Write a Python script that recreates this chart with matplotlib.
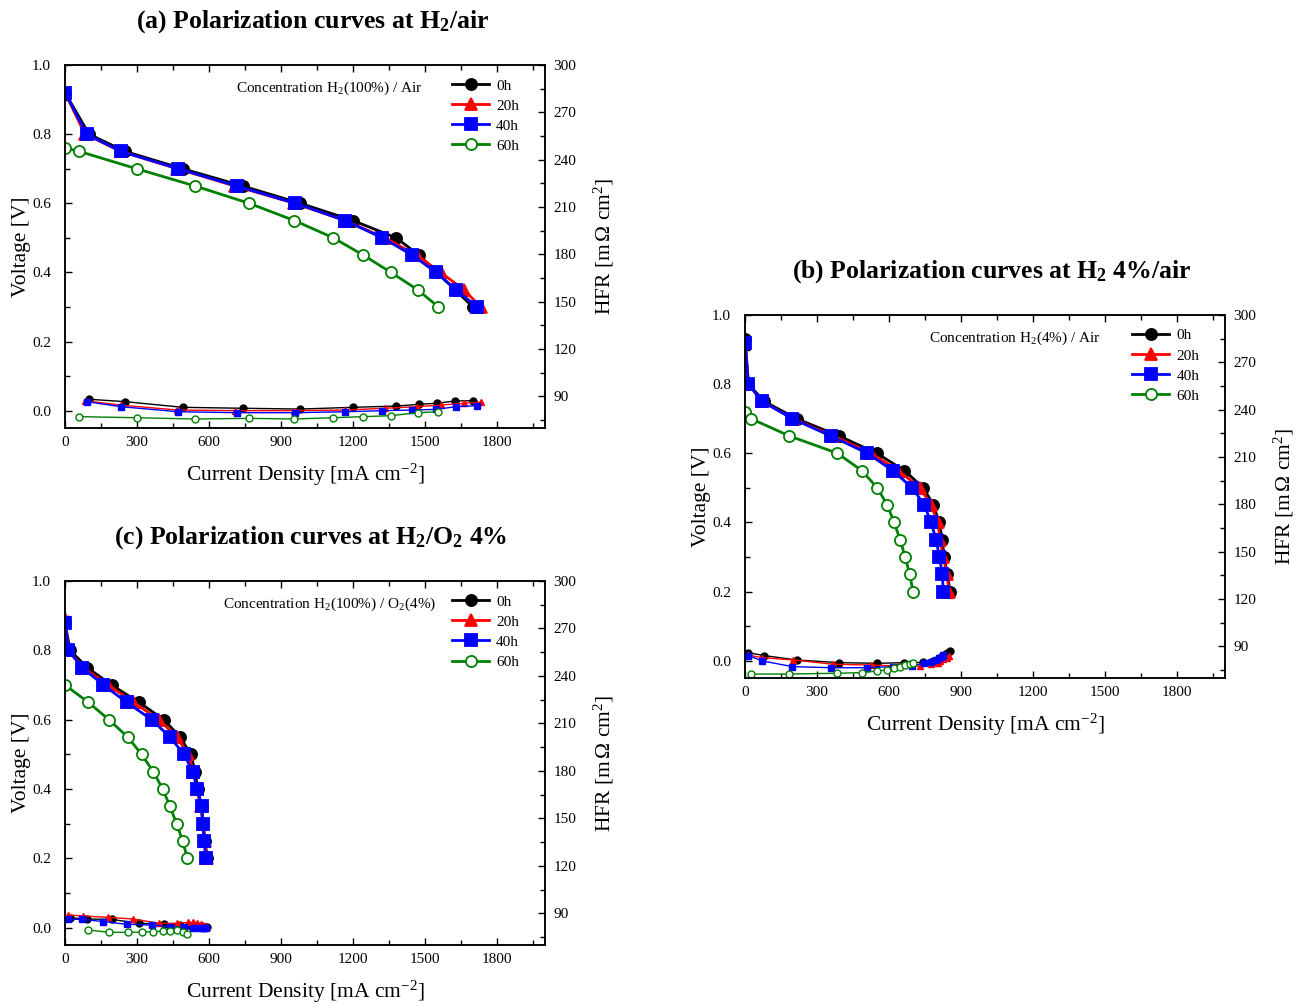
import matplotlib.pyplot as plt
from matplotlib.lines import Line2D
from matplotlib.ticker import MultipleLocator, FormatStrFormatter

plt.rcParams['font.family'] = 'Liberation Serif'
plt.rcParams['mathtext.fontset'] = 'custom'
plt.rcParams['mathtext.rm'] = 'Liberation Serif'
plt.rcParams['mathtext.it'] = 'Liberation Serif:italic'
plt.rcParams['mathtext.bf'] = 'Liberation Serif:bold'

hours = ['0h', '20h', '40h', '60h']

# === (a) H2(100%) / air ===
a_volt = [0.92, 0.80, 0.75, 0.70, 0.65, 0.60, 0.55, 0.50, 0.45, 0.40, 0.35, 0.30]
a_volt_60h = [0.76, 0.75, 0.70, 0.65, 0.60, 0.55, 0.50, 0.45, 0.40, 0.35, 0.30]
a_cur_0h = [0, 100, 250, 490, 740, 980, 1200, 1380, 1475, 1550, 1625, 1700]
a_cur_20h = [0, 83, 233, 468, 708, 956, 1167, 1333, 1465, 1565, 1662, 1732]
a_cur_40h = [0, 90, 233, 472, 715, 960, 1167, 1322, 1447, 1546, 1628, 1718]
a_cur_60h = [0, 60, 298, 542, 767, 956, 1118, 1243, 1358, 1469, 1556]
a_hfr_0h = [88.2, 86.7, 83.1, 82.5, 82.0, 83.1, 83.9, 85.0, 85.7, 87.1, 87.3]
a_hfr_20h = [87.3, 84.5, 81.4, 81.0, 81.0, 81.4, 82.5, 83.5, 84.5, 85.7, 86.3]
a_hfr_40h = [86.7, 83.5, 80.3, 79.7, 79.7, 80.3, 81.0, 81.4, 81.8, 83.5, 84.2]
a_hfr_60h = [77.2, 76.5, 75.7, 76.1, 75.7, 76.5, 77.2, 77.8, 79.7, 80.3]

# === (b) H2(4%) / air ===
b_volt_0h = [0.93, 0.80, 0.75, 0.70, 0.65, 0.60, 0.55, 0.50, 0.45, 0.40, 0.35, 0.30, 0.25, 0.20]
b_volt = [0.92, 0.80, 0.75, 0.70, 0.65, 0.60, 0.55, 0.50, 0.45, 0.40, 0.35, 0.30, 0.25, 0.20]
b_volt_60h = [0.72, 0.70, 0.65, 0.60, 0.55, 0.50, 0.45, 0.40, 0.35, 0.30, 0.25, 0.20]
b_cur_0h = [0, 14, 80, 215, 392, 549, 664, 743, 785, 808, 822, 829, 843, 854]
b_cur_20h = [0, 14, 69, 201, 368, 524, 639, 729, 775, 803, 812, 826, 840, 851]
b_cur_40h = [0, 14, 72, 197, 357, 510, 615, 697, 747, 775, 796, 810, 822, 826]
b_cur_60h = [0, 25, 185, 385, 486, 551, 593, 621, 646, 667, 686, 700]
b_hfr_0h = [86.0, 84.2, 81.4, 79.7, 79.3, 79.7, 79.9, 81.0, 82.5, 83.5, 84.5, 85.7, 87.1]
b_hfr_20h = [84.5, 82.9, 81.4, 78.7, 78.2, 77.6, 77.6, 78.9, 79.7, 80.8, 81.8, 82.9, 84.2]
b_hfr_40h = [84.2, 80.8, 77.2, 76.5, 76.5, 77.2, 77.8, 79.3, 80.3, 81.4, 82.5, 83.5, 84.5]
b_hfr_60h = [72.5, 72.5, 73.0, 73.4, 74.4, 75.1, 76.1, 77.2, 78.2, 78.9, 79.3]

# === (c) H2(100%) / O2(4%) ===
c_volt_0h = [0.88, 0.80, 0.75, 0.70, 0.65, 0.60, 0.55, 0.50, 0.45, 0.40, 0.35, 0.30, 0.25, 0.20]
c_volt_20h = [0.89, 0.80, 0.75, 0.70, 0.65, 0.60, 0.55, 0.50, 0.45, 0.40, 0.35, 0.30, 0.25, 0.20]
c_volt_40h = [0.88, 0.80, 0.75, 0.70, 0.65, 0.60, 0.55, 0.50, 0.45, 0.40, 0.35, 0.30, 0.25, 0.20]
c_volt_60h = [0.70, 0.65, 0.60, 0.55, 0.50, 0.45, 0.40, 0.35, 0.30, 0.25, 0.20]
c_cur_0h = [0, 21, 93, 194, 308, 412, 479, 524, 542, 553, 569, 576, 583, 593]
c_cur_20h = [0, 14, 76, 180, 285, 392, 465, 514, 535, 549, 565, 576, 583, 590]
c_cur_40h = [0, 14, 72, 160, 257, 361, 437, 496, 532, 551, 569, 573, 580, 586]
c_cur_60h = [0, 97, 183, 261, 319, 368, 407, 437, 465, 490, 510]
c_hfr_0h = [87.2, 86.4, 86.2, 83.7, 83.3, 82.6, 82.2, 82.0, 81.8, 81.6, 81.6, 81.4, 81.2]
c_hfr_20h = [89.0, 88.3, 87.5, 86.4, 83.7, 83.7, 84.3, 84.3, 83.7, 83.3, 82.6, 82.2, 81.6]
c_hfr_40h = [86.2, 86.2, 84.8, 83.1, 82.6, 81.6, 81.2, 81.0, 81.0, 80.5, 80.5, 80.5, 80.5]
c_hfr_60h = [79.5, 78.0, 78.0, 78.2, 78.4, 78.8, 79.0, 79.5, 78.0, 76.7]

styles = [
    dict(color='black', marker='o', mfc='black', mec='black'),
    dict(color='red', marker='^', mfc='red', mec='red'),
    dict(color='blue', marker='s', mfc='blue', mec='blue'),
    dict(color='green', marker='o', mfc='white', mec='green'),
]


def draw_panel(rect, title, title_xy, note, curs, volts, hfrs, note_x):
    ax = fig.add_axes(rect)
    ax2 = ax.twinx()

    for cur, volt, hfr, st in zip(curs, volts, hfrs, styles):
        # polarization curve
        ax.plot(cur, volt, lw=2, ms=8 if st['marker'] != '^' else 8.5,
                mew=1.3, **st)
        # HFR is measured from the first loaded point onward
        ax2.plot(cur[1:], hfr, lw=1, ms=5, mew=1, **st)

    ax.set_xlim(0, 2000)
    ax.set_ylim(-0.05, 1.0)
    ax2.set_ylim(70, 300)
    ax.xaxis.set_major_locator(MultipleLocator(300))
    ax.xaxis.set_minor_locator(MultipleLocator(150))
    ax.yaxis.set_major_locator(MultipleLocator(0.2))
    ax.yaxis.set_minor_locator(MultipleLocator(0.1))
    ax.yaxis.set_major_formatter(FormatStrFormatter('%.1f'))
    ax2.yaxis.set_major_locator(MultipleLocator(30))
    ax2.yaxis.set_minor_locator(MultipleLocator(15))
    ax2.set_yticks([90, 120, 150, 180, 210, 240, 270, 300])

    ax.tick_params(which='both', direction='in', top=True, right=False,
                   labelsize=11, width=1)
    ax.tick_params(which='major', length=5)
    ax.tick_params(which='minor', length=3.5)
    ax.tick_params(axis='y', pad=10)
    ax.tick_params(axis='x', pad=6)
    ax2.tick_params(which='both', direction='in', labelsize=11, width=1, pad=6)
    ax2.tick_params(which='major', length=5)
    ax2.tick_params(which='minor', length=3.5)
    for s in ax.spines.values():
        s.set_linewidth(1.1)
    for s in ax2.spines.values():
        s.set_linewidth(1.1)

    ax.set_xlabel('Current Density [mA cm$^{-2}$]', fontsize=15.5, labelpad=9)
    ax.set_ylabel('Voltage [V]', fontsize=15.5, labelpad=1)
    ax2.set_ylabel('HFR [m$\\,\\Omega$ cm$^{2}$]', fontsize=15.5, labelpad=11)

    ax.text(note_x, 0.936, note, transform=ax.transAxes, ha='right',
            va='center', fontsize=11)

    handles = [Line2D([], [], lw=2, ms=8, mew=1.3, **st) for st in styles]
    ax.legend(handles, hours, loc='upper left', bbox_to_anchor=(0.806, 0.962),
              frameon=False, fontsize=11, borderpad=0, borderaxespad=0,
              handlelength=2.45, handletextpad=0.45, labelspacing=0.42)

    fig.text(title_xy[0], title_xy[1], title, ha='center', va='center',
             fontsize=18.5, fontweight='bold')
    return ax, ax2


fig = plt.figure(figsize=(13.03, 10.08), dpi=100)

draw_panel([0.0499, 0.5754, 0.3684, 0.3601],
           '(a) Polarization curves at H$_\\mathbf{2}$/air', (0.2395, 0.979),
           'Concentration H$_2$(100%) / Air',
           [a_cur_0h, a_cur_20h, a_cur_40h, a_cur_60h],
           [a_volt, a_volt, a_volt, a_volt_60h],
           [a_hfr_0h, a_hfr_20h, a_hfr_40h, a_hfr_60h], 0.746)

draw_panel([0.5718, 0.3274, 0.3684, 0.3601],
           '(b) Polarization curves at H$_\\mathbf{2}$ 4%/air', (0.7613, 0.731),
           'Concentration H$_2$(4%) / Air',
           [b_cur_0h, b_cur_20h, b_cur_40h, b_cur_60h],
           [b_volt_0h, b_volt, b_volt, b_volt_60h],
           [b_hfr_0h, b_hfr_20h, b_hfr_40h, b_hfr_60h], 0.740)

draw_panel([0.0499, 0.0625, 0.3684, 0.3611],
           '(c) Polarization curves at H$_\\mathbf{2}$/O$_\\mathbf{2}$ 4%', (0.2387, 0.467),
           'Concentration H$_2$(100%) / O$_2$(4%)',
           [c_cur_0h, c_cur_20h, c_cur_40h, c_cur_60h],
           [c_volt_0h, c_volt_20h, c_volt_40h, c_volt_60h],
           [c_hfr_0h, c_hfr_20h, c_hfr_40h, c_hfr_60h], 0.773)

fig.savefig('out.png', dpi=100)
